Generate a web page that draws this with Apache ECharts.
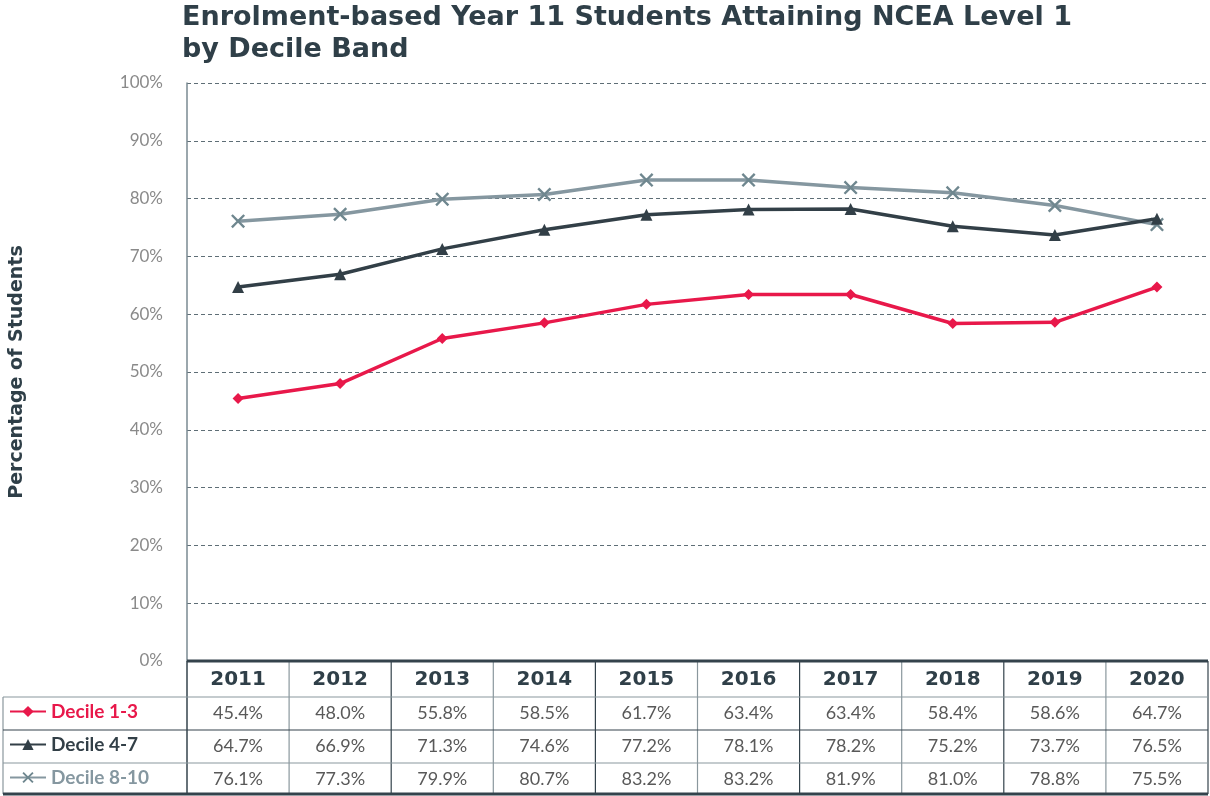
<!DOCTYPE html>
<html>
<head>
<meta charset="utf-8">
<script src="https://cdn.jsdelivr.net/npm/echarts@6/dist/echarts.min.js"></script>
<style>
html,body{margin:0;padding:0;background:#fff;}
#chart{width:1210px;height:796px;}
</style>
</head>
<body>
<div id="chart"></div>
<script>
const years = ['2011','2012','2013','2014','2015','2016','2017','2018','2019','2020'];
const seriesNames = ['Decile 1-3','Decile 4-7','Decile 8-10'];
const decile13 = [45.4,48.0,55.8,58.5,61.7,63.4,63.4,58.4,58.6,64.7];
const decile47 = [64.7,66.9,71.3,74.6,77.2,78.1,78.2,75.2,73.7,76.5];
const decile810 = [76.1,77.3,79.9,80.7,83.2,83.2,81.9,81.0,78.8,75.5];

const RED = '#e8184a', DARK = '#323f47', GREY = '#8597a0', XMARK = '#6f878f';
const FONT = 'Lato, "Open Sans", sans-serif';
const HEAVY = '"DejaVu Sans", sans-serif';
const crossPath = 'path://M1.2,0 L5,3.8 L8.8,0 L10,1.2 L6.2,5 L10,8.8 L8.8,10 L5,6.2 L1.2,10 L0,8.8 L3.8,5 L0,1.2Z';
const legendColors = [RED, DARK, GREY];
const legendTops = [702, 735, 768];

const chart = echarts.init(document.getElementById('chart'), null, {renderer:'canvas'});
const option = {
  animation:false,
  backgroundColor:'#fff',
  title:{
    text:'Enrolment-based Year 11 Students Attaining NCEA Level 1\nby Decile Band',
    left:182, top:2, padding:0,
    textStyle:{fontFamily:HEAVY, fontWeight:'bold', fontSize:27, lineHeight:32, color:'#2f3f48'}
  },
  legend: seriesNames.map((n,i)=>({
    orient:'vertical', left:9, top:legendTops[i], padding:0,
    itemWidth:36, itemHeight:14, itemGap:0,
    textStyle:{fontFamily:FONT, fontSize:19, fontWeight:'bold', color:legendColors[i]},
    data:[n]
  })),
  grid:{left:183, right:2, top:83, bottom:135, containLabel:false},
  xAxis:{
    type:'category', data:years, boundaryGap:true,
    axisLine:{show:false}, axisTick:{show:false}, axisLabel:{show:false}
  },
  yAxis:{
    type:'value', min:0, max:100, interval:10,
    name:'Percentage of Students', nameLocation:'middle', nameGap:160,
    nameTextStyle:{fontFamily:HEAVY, fontWeight:'bold', fontSize:19, color:'#2f3f48'},
    axisLine:{show:true, lineStyle:{color:'#7a8a92', width:1.5}},
    axisTick:{show:false},
    axisLabel:{formatter:'{value}%', fontFamily:FONT, fontSize:17, color:'#8a8a8a', margin:24},
    splitLine:{show:true, lineStyle:{type:[4,3], color:'#5e6e76', width:1}}
  },
  series:[
    {name:seriesNames[0], type:'line', data:decile13, symbol:'diamond', symbolSize:11,
     lineStyle:{color:RED, width:3.5}, itemStyle:{color:RED}, z:3},
    {name:seriesNames[1], type:'line', data:decile47, symbol:'triangle', symbolSize:12,
     lineStyle:{color:DARK, width:3.5}, itemStyle:{color:DARK}, z:4},
    {name:seriesNames[2], type:'line', data:decile810, symbol:crossPath, symbolSize:14,
     lineStyle:{color:GREY, width:3.5}, itemStyle:{color:XMARK}, z:2}
  ]
};
chart.setOption(option);

// Data table under the plot, positioned from the axis scales
const c0 = chart.convertToPixel({xAxisIndex:0}, 0);
const c1 = chart.convertToPixel({xAxisIndex:0}, 1);
const band = c1 - c0;
const leftEdge = c0 - band/2;
const rightEdge = leftEdge + band*years.length;
const yTop = chart.convertToPixel({yAxisIndex:0}, 0);
const headerBottom = yTop + 36;
const rowH = 33;
const rowsData = [decile13, decile47, decile810];
const tableBottom = headerBottom + rowH*3 - 2;
const g = [];
const LINE_GREY = '#8a979d', LINE_DARK = '#34434c';
function hline(y, x1, x2, color, w){ g.push({type:'line', shape:{x1:x1,y1:y,x2:x2,y2:y}, style:{stroke:color, lineWidth:w}, z:10}); }
function vline(x, y1, y2, color, w){ g.push({type:'line', shape:{x1:x,y1:y1,x2:x,y2:y2}, style:{stroke:color, lineWidth:w}, z:10}); }
for(let i=0;i<=years.length;i++){
  const x = leftEdge + band*i;
  vline(x, yTop, tableBottom, i===0 ? LINE_DARK : (i%2===0 ? LINE_DARK : LINE_GREY), i===0?1.5:1.2);
}
vline(3, headerBottom, tableBottom, LINE_GREY, 1.2);
hline(yTop, leftEdge, rightEdge, LINE_DARK, 3);
hline(headerBottom, 3, rightEdge, LINE_GREY, 1.2);
hline(headerBottom+rowH, 3, rightEdge, LINE_DARK, 1.2);
hline(headerBottom+rowH*2, 3, rightEdge, LINE_GREY, 1.2);
hline(tableBottom, 3, rightEdge, LINE_DARK, 3);
years.forEach((yr,i)=>{
  const cx = leftEdge + band*(i+0.5);
  g.push({type:'text', x:cx, y:(yTop+headerBottom)/2+1, style:{text:yr, x:0, y:0, align:'center', verticalAlign:'middle',
    fill:'#2f3f48', font:'bold 20px '+HEAVY}, z:11});
  rowsData.forEach((arr,r)=>{
    const cy = headerBottom + rowH*r + rowH/2;
    g.push({type:'text', x:cx, y:cy, style:{text:arr[i].toFixed(1)+'%', x:0, y:0, align:'center', verticalAlign:'middle',
      fill:'#595959', font:'18px '+FONT}, z:11});
  });
});
chart.setOption({graphic:{elements:g}});
</script>
</body>
</html>
